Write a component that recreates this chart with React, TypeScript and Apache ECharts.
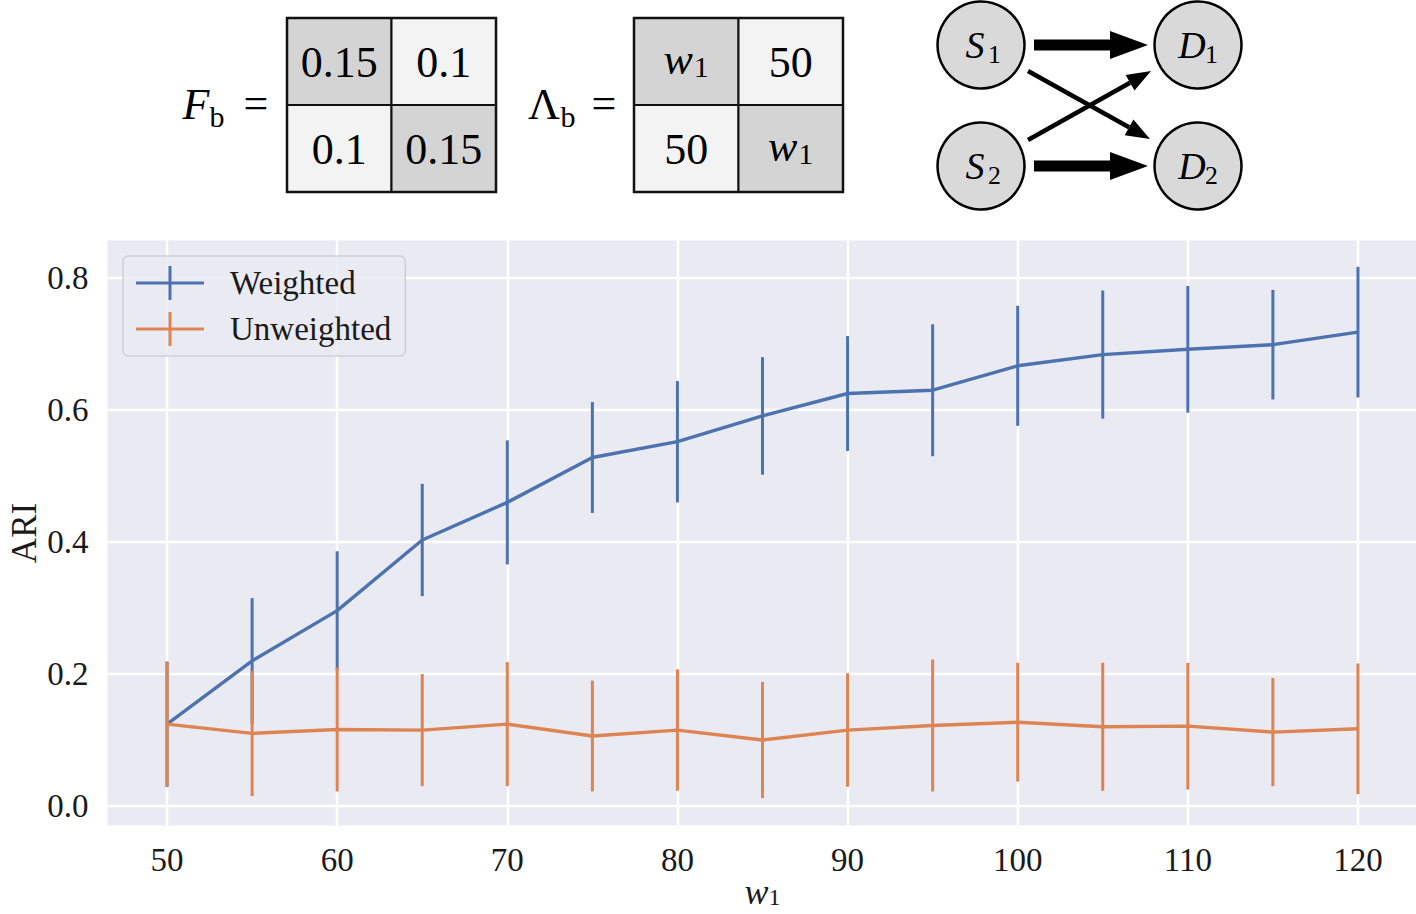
import React, { useEffect, useRef } from 'react';
import * as echarts from 'echarts';

// ---- data ----
const w1Values = [50, 55, 60, 65, 70, 75, 80, 85, 90, 95, 100, 105, 110, 115, 120];
const weightedMean = [0.124, 0.220, 0.296, 0.403, 0.460, 0.528, 0.552, 0.591, 0.625, 0.630, 0.667, 0.684, 0.692, 0.699, 0.718];
const weightedErr = [0.095, 0.095, 0.090, 0.085, 0.094, 0.084, 0.092, 0.089, 0.087, 0.100, 0.091, 0.097, 0.096, 0.083, 0.099];
const unweightedMean = [0.124, 0.110, 0.116, 0.115, 0.124, 0.106, 0.115, 0.100, 0.115, 0.122, 0.127, 0.120, 0.121, 0.112, 0.117];
const unweightedErr = [0.094, 0.095, 0.094, 0.085, 0.094, 0.084, 0.092, 0.088, 0.086, 0.100, 0.090, 0.097, 0.096, 0.082, 0.099];
const xTicks = [50, 60, 70, 80, 90, 100, 110, 120];
const yTicks = [0.0, 0.2, 0.4, 0.6, 0.8];
const seriesNames = ['Weighted', 'Unweighted'];
const fbCells = [['0.15', '0.1'], ['0.1', '0.15']];
const lambdaCells = [['w1', '50'], ['50', 'w1']];
const nodeNames = [['S', '1'], ['D', '1'], ['S', '2'], ['D', '2']];

const BLUE = '#4C72B0';
const ORANGE = '#DD8452';
const SERIF = '"Liberation Serif", "DejaVu Serif", serif';
const TXT = '#1a1a1a';

function txt(x: number, y: number, text: string, size: number, extra: any = {}) {
  return {
    type: 'text', x, y, z: 20,
    style: { text, fontSize: size, fontFamily: SERIF, fill: '#000', align: 'center', verticalAlign: 'middle', ...extra },
  };
}

function sub(x: number, y: number, main: string, s: string, size: number, italic: boolean) {
  const mainW = size * 0.62;
  return [
    txt(x, y, main, size, { fontStyle: italic ? 'italic' : 'normal' }),
    txt(x + mainW / 2 + size * 0.2, y + size * 0.26, s, size * 0.68),
  ];
}

function matrix(x0: number, y0: number, cw: number, ch: number, cells: string[][]) {
  const els: any[] = [];
  for (let r = 0; r < 2; r++) {
    for (let c = 0; c < 2; c++) {
      const dark = r === c;
      els.push({
        type: 'rect', z: 10,
        shape: { x: x0 + c * cw, y: y0 + r * ch, width: cw, height: ch },
        style: { fill: dark ? '#d4d4d4' : '#f3f3f3', stroke: '#111', lineWidth: 2 },
      });
      const cx = x0 + c * cw + cw / 2;
      const cy = y0 + r * ch + ch / 2 + 1;
      const v = cells[r][c];
      if (v === 'w1') {
        els.push(txt(cx - 8, cy - 3, 'w', 44, { fontStyle: 'italic' }));
        els.push(txt(cx + 15, cy + 4, '1', 30));
      } else {
        els.push(txt(cx, cy, v, 44));
      }
    }
  }
  els.push({
    type: 'rect', z: 11,
    shape: { x: x0, y: y0, width: cw * 2, height: ch * 2 },
    style: { fill: 'none', stroke: '#111', lineWidth: 2.5 },
  });
  return els;
}

function arrowHead(x1: number, y1: number, x2: number, y2: number, len: number, half: number) {
  const dx = x2 - x1, dy = y2 - y1;
  const L = Math.sqrt(dx * dx + dy * dy);
  const ux = dx / L, uy = dy / L;
  const bx = x2 - ux * len, by = y2 - uy * len;
  const nx = -uy, ny = ux;
  return {
    base: [bx, by],
    head: {
      type: 'polygon', z: 12,
      shape: { points: [[x2, y2], [bx + nx * half, by + ny * half], [bx - nx * half, by - ny * half]] },
      style: { fill: '#000' },
    },
  };
}

function thinArrow(x1: number, y1: number, x2: number, y2: number) {
  const a = arrowHead(x1, y1, x2, y2, 24, 9);
  return [
    { type: 'line', z: 12, shape: { x1, y1, x2: a.base[0], y2: a.base[1] }, style: { stroke: '#000', lineWidth: 4.5 } },
    a.head,
  ];
}

function thickArrow(x1: number, x2: number, y: number) {
  return {
    type: 'polygon', z: 12,
    shape: {
      points: [[x1, y - 5.5], [x2 - 38, y - 5.5], [x2 - 38, y - 14], [x2, y], [x2 - 38, y + 14], [x2 - 38, y + 5.5], [x1, y + 5.5]],
    },
    style: { fill: '#000' },
  };
}

function buildGraphics() {
  const els: any[] = [];
  els.push(txt(196, 104, 'F', 44, { fontStyle: 'italic' }));
  els.push(txt(217, 116, 'b', 30));
  els.push(txt(256, 103, '=', 44));
  els.push(...matrix(287, 18, 104.5, 87, fbCells));
  els.push(txt(544, 104, 'Λ', 44));
  els.push(txt(568, 116, 'b', 30));
  els.push(txt(604, 103, '=', 44));
  els.push(...matrix(634, 18, 104.5, 87, lambdaCells));
  const centres = [[981, 45], [1198, 45], [981, 166], [1198, 166]];
  centres.forEach((c, i) => {
    els.push({
      type: 'circle', z: 10,
      shape: { cx: c[0], cy: c[1], r: 43.5 },
      style: { fill: '#d9d9d9', stroke: '#000', lineWidth: 2.5 },
    });
    const [m, s] = nodeNames[i];
    els.push(...sub(c[0] - 6, c[1], m, s, 38, true));
  });
  els.push(thickArrow(1034, 1148, 45));
  els.push(thickArrow(1034, 1148, 166));
  els.push(...thinArrow(1028, 71, 1150, 139));
  els.push(...thinArrow(1028, 140, 1151, 71));
  return els;
}

function errorSeries(name: string, means: number[], errs: number[], color: string, z: number) {
  const data = w1Values.map((x, i) => [x, means[i] - errs[i], means[i] + errs[i]]);
  return {
    type: 'custom', name, z,
    data,
    encode: { x: 0, y: [1, 2] },
    renderItem: (_p: any, api: any) => {
      const x = api.value(0);
      const a = api.coord([x, api.value(1)]);
      const b = api.coord([x, api.value(2)]);
      return {
        type: 'line',
        shape: { x1: a[0], y1: a[1], x2: b[0], y2: b[1] },
        style: { stroke: color, lineWidth: 3 },
      };
    },
  };
}

function lineSeries(name: string, means: number[], color: string, z: number) {
  return {
    type: 'line', name, z,
    data: w1Values.map((x, i) => [x, means[i]]),
    showSymbol: false,
    symbol: 'none',
    color,
    lineStyle: { color, width: 3.4 },
    itemStyle: { color },
  };
}

const legendIcon = 'path://M0,15.5h68v3h-68z M32.5,0h3v34h-3z';

export default function App() {
  const ref = useRef<HTMLDivElement>(null);
  useEffect(() => {
    const chart = echarts.init(ref.current!, null, { renderer: 'svg' });
    const option: any = {
      animation: false,
      backgroundColor: '#ffffff',
      grid: {
        left: 107.5, right: -1.5, top: 240.4, bottom: 88.4,
        containLabel: false, outerBoundsMode: 'none',
        show: true, backgroundColor: '#EAEAF2', borderWidth: 0,
      },
      legend: {
        orient: 'vertical',
        left: 123, top: 256,
        padding: [10, 14, 10, 13],
        itemWidth: 68, itemHeight: 34, itemGap: 12,
        backgroundColor: 'rgba(234,234,242,0.85)',
        borderColor: '#cfcfd6', borderWidth: 1.5, borderRadius: 5,
        itemStyle: { borderWidth: 0 },
        textStyle: { fontSize: 33, fontFamily: SERIF, color: TXT, padding: [0, 0, 0, 21] },
        data: [
          { name: seriesNames[0], icon: legendIcon },
          { name: seriesNames[1], icon: legendIcon },
        ],
      },
      xAxis: {
        type: 'value', min: 46.5, max: 123.5,
        name: '{w|w}{s|1}', nameLocation: 'middle', nameGap: 49, nameMoveOverlap: false,
        nameTextStyle: {
          rich: {
            w: { fontSize: 36, lineHeight: 34, fontFamily: SERIF, fontStyle: 'italic', color: TXT },
            s: { fontSize: 24, lineHeight: 34, fontFamily: SERIF, color: TXT, verticalAlign: 'bottom' },
          },
        },
        axisLine: { show: false },
        axisTick: { show: false, customValues: xTicks },
        axisLabel: { customValues: xTicks, fontSize: 33, fontFamily: SERIF, color: TXT, margin: 18 },
        splitLine: { show: true, lineStyle: { color: '#ffffff', width: 2.4 } },
      },
      yAxis: {
        type: 'value', min: -0.0297, max: 0.857,
        name: 'ARI', nameLocation: 'middle', nameGap: 66, nameMoveOverlap: false,
        nameTextStyle: { fontSize: 35, fontFamily: SERIF, color: TXT },
        axisLine: { show: false },
        axisTick: { show: false, customValues: yTicks },
        axisLabel: { customValues: yTicks, fontSize: 33, fontFamily: SERIF, color: TXT, margin: 19, formatter: (v: number) => v.toFixed(1) },
        splitLine: { show: true, lineStyle: { color: '#ffffff', width: 2.4 } },
      },
      graphic: buildGraphics(),
      series: [
        lineSeries(seriesNames[0], weightedMean, BLUE, 2),
        errorSeries(seriesNames[0], weightedMean, weightedErr, BLUE, 3),
        lineSeries(seriesNames[1], unweightedMean, ORANGE, 4),
        errorSeries(seriesNames[1], unweightedMean, unweightedErr, ORANGE, 5),
      ],
    };
    chart.setOption(option);
    return () => chart.dispose();
  }, []);
  return <div ref={ref} style={{ position: 'fixed', left: 0, top: 0, width: 1416, height: 914, background: '#fff' }} />;
}
